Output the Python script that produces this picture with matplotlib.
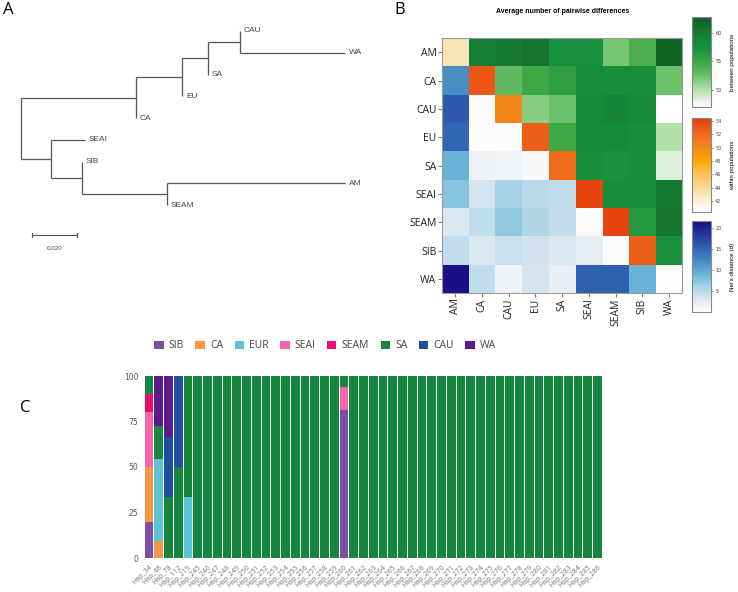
import numpy as np
import pandas as pd
import matplotlib
matplotlib.use("Agg")
import matplotlib.pyplot as plt
from matplotlib.colors import LinearSegmentedColormap, Normalize
from matplotlib.cm import ScalarMappable
from matplotlib.patches import Patch

# ==============================
# Data
# ==============================
# A: neighbour-joining tree (newick, branch lengths)
newick = ("(((((CAU:0,WA:0.0467):0.0142,SA:0):0.0115,EU:0):0.0205,CA:0):0.0511,"
          "(SEAI:0.0151,(SIB:0,(AM:0.0791,SEAM:0):0.0378):0.0138):0.0133);")

# B: pairwise matrix (upper = between, diagonal = within, lower = Nei's d)
pops = ["AM", "CA", "CAU", "EU", "SA", "SEAI", "SEAM", "SIB", "WA"]
pairwise = np.array([
    [43.0, 59.5, 60.0, 60.5, 57.5, 57.5, 52.0, 54.0, 62.0],
    [12.0, 53.0, 53.0, 55.0, 56.0, 58.0, 58.0, 58.0, 52.5],
    [16.0, 0.3, 50.0, 51.5, 52.5, 58.5, 59.0, 58.5, 47.0],
    [15.0, 0.3, 0.3, 52.5, 55.0, 58.5, 58.5, 58.0, 50.0],
    [9.0, 1.5, 1.2, 0.8, 51.8, 58.0, 57.5, 58.0, 48.5],
    [7.5, 3.5, 6.0, 5.0, 4.5, 54.0, 58.0, 58.0, 60.0],
    [3.0, 4.5, 7.0, 5.5, 4.5, 0.5, 54.0, 56.5, 60.5],
    [4.5, 3.0, 4.0, 3.8, 3.0, 2.2, 0.5, 52.5, 57.5],
    [21.5, 4.5, 1.5, 3.5, 2.0, 15.5, 15.5, 9.0, 40.5],
])

# C: haplotype composition (%), haplotypes not listed are 100% SA
haplotypes = ["Hap_34", "Hap_48", "Hap_78", "Hap_112", "Hap_219"] + \
             ["Hap_%d" % n for n in range(245, 287)]
mixed_haps = ["Hap_34", "Hap_48", "Hap_78", "Hap_112", "Hap_219", "Hap_260"]
sib = [20, 0, 0, 0, 0, 81.25]
ca = [30, 9.09, 0, 0, 0, 0]
eur = [0, 45.45, 0, 0, 33.33, 0]
seai = [30, 0, 0, 0, 0, 12.5]
seam = [10, 0, 0, 0, 0, 0]
sa = [10, 18.18, 33.33, 50, 66.67, 6.25]
cau = [0, 0, 33.33, 50, 0, 0]
wa = [0, 27.27, 33.33, 0, 0, 0]

groups = ["SIB", "CA", "EUR", "SEAI", "SEAM", "SA", "CAU", "WA"]
group_colors = ["#7e4ea6", "#f79646", "#5bc3d6", "#f564ae",
                "#ee0b6c", "#16873e", "#1e4ea0", "#5b1b8c"]

comp = pd.DataFrame(0.0, index=haplotypes, columns=groups)
comp["SA"] = 100.0
mixed = pd.DataFrame({"SIB": sib, "CA": ca, "EUR": eur, "SEAI": seai, "SEAM": seam,
                      "SA": sa, "CAU": cau, "WA": wa}, index=mixed_haps)
comp.loc[mixed_haps] = mixed[groups].values

# ==============================
# Figure
# ==============================
W, H = 738, 592
fig = plt.figure(figsize=(W / 100, H / 100), dpi=100)


def box(x0, y0, x1, y1):
    # pixel box (top-left origin) -> figure fraction rect
    return [x0 / W, 1 - y1 / H, (x1 - x0) / W, (y1 - y0) / H]


# ------------------------------
# A: tree
# ------------------------------
def parse(s, i=0):
    children = []
    if s[i] == "(":
        i += 1
        while True:
            child, i = parse(s, i)
            children.append(child)
            if s[i] == ",":
                i += 1
            else:
                i += 1
                break
    j = i
    while i < len(s) and s[i] not in ",);":
        i += 1
    name, _, length = s[j:i].partition(":")
    return {"name": name, "len": float(length) if length else 0.0,
            "children": children}, i


root, _ = parse(newick)
tips = []


def layout(node, x0):
    node["x"] = x0 + node["len"]
    if node["children"]:
        for c in node["children"]:
            layout(c, node["x"])
        node["y"] = np.mean([c["y"] for c in node["children"]])
    else:
        node["y"] = len(tips)
        tips.append(node)


layout(root, 0.0)

ax_tree = fig.add_axes(box(0, 0, 395, 270))
px = 45 / 0.02
ax_tree.set_xlim(-21 / px, (395 - 21) / px)
ax_tree.set_ylim((270 - 31) / 21.75, -31 / 21.75)
ax_tree.axis("off")

line_kw = dict(color="#555555", lw=0.9, solid_capstyle="butt")


def draw(node):
    if not node["children"]:
        ax_tree.text(node["x"] + 4 / px, node["y"], node["name"], fontsize=6,
                     family="Liberation Sans", color="#444444",
                     ha="left", va="center")
        return
    ys = [c["y"] for c in node["children"]]
    ax_tree.plot([node["x"], node["x"]], [min(ys), max(ys)], **line_kw)
    for c in node["children"]:
        if c["len"] > 0:
            ax_tree.plot([node["x"], c["x"]], [c["y"], c["y"]], **line_kw)
        draw(c)


draw(root)

# scale bar
sb_x = 11 / px
sb_y = (235 - 31) / 21.75
ax_tree.plot([sb_x, sb_x + 0.02], [sb_y, sb_y], color="#555555", lw=0.8)
for xx in [sb_x, sb_x + 0.02]:
    ax_tree.plot([xx, xx], [sb_y - 0.1, sb_y + 0.1], color="#555555", lw=0.8)
ax_tree.text(sb_x + 0.01, sb_y + 0.6, "0.020", fontsize=4.5, ha="center",
             va="center", color="#444444", family="Liberation Sans")

# ------------------------------
# B: heatmap
# ------------------------------
def make_cmap(name, stops, vmin, vmax):
    return LinearSegmentedColormap.from_list(
        name, [((v - vmin) / (vmax - vmin), c) for v, c in stops])


g_min, g_max = 47.0, 62.8
cmap_between = make_cmap("between", [
    (47.0, "#ffffff"), (48.5, "#dcefd8"), (50.0, "#b5e0ad"), (51.5, "#86cc80"),
    (52.5, "#6cc16a"), (54.0, "#4caf50"), (55.0, "#3fa844"), (57.0, "#1d943e"),
    (58.5, "#138c3a"), (60.0, "#177a32"), (62.8, "#0d5e25")], g_min, g_max)
o_min, o_max = 40.4, 54.4
cmap_within = make_cmap("within", [
    (40.4, "#ffffff"), (42.0, "#fdf1dc"), (43.0, "#f8e4b4"), (44.0, "#f9d99a"),
    (46.0, "#fcc35a"), (48.0, "#f9a70a"), (50.0, "#f5871a"), (52.0, "#f06a1c"),
    (54.4, "#e63c0c")], o_min, o_max)
b_min, b_max = 0.0, 21.7
cmap_nei = make_cmap("nei", [
    (0.0, "#ffffff"), (1.5, "#eef2f6"), (3.0, "#dce8f0"), (4.5, "#c2ddeb"),
    (6.0, "#a8d2e6"), (7.5, "#88c4e0"), (9.0, "#6ab4d8"), (12.0, "#4a8cc4"),
    (15.5, "#3060b0"), (21.7, "#1b0b85")], b_min, b_max)

n = len(pops)
upper = np.triu(np.ones((n, n), bool), 1)
diag = np.eye(n, dtype=bool)
lower = np.tril(np.ones((n, n), bool), -1)

layers = [
    (upper, cmap_between, Normalize(g_min, g_max)),
    (diag, cmap_within, Normalize(o_min, o_max)),
    (lower, cmap_nei, Normalize(b_min, b_max)),
]

ax_hm = fig.add_axes(box(442, 38, 682.3, 293))
for mask, cmap, norm in layers:
    ax_hm.imshow(np.ma.masked_where(~mask, pairwise), cmap=cmap, norm=norm,
                 aspect="auto", interpolation="nearest")
ax_hm.set_xticks(range(n))
ax_hm.set_xticklabels(pops, rotation=90, fontsize=7.5, family="Open Sans",
                      color="#222222")
ax_hm.set_yticks(range(n))
ax_hm.set_yticklabels(pops, fontsize=7.5, family="Open Sans", color="#222222")
ax_hm.tick_params(length=3, width=0.6, color="#666666", pad=1)
for sp in ax_hm.spines.values():
    sp.set_color("#999999")
    sp.set_linewidth(0.8)
ax_hm.set_title("Average number of pairwise differences", fontsize=5,
                fontweight="bold", family="Liberation Sans", pad=18)

cbar_boxes = [box(692, 17, 711, 107), box(692, 118, 711, 212), box(692, 221, 711, 312)]
cbar_ticks = [[50, 55, 60], [42, 44, 46, 48, 50, 52, 54], [5, 10, 15, 20]]
cbar_labels = ["between populations", "within populations", "Nei's distance (d)"]
for rect, (mask, cmap, norm), ticks, label in zip(cbar_boxes, layers, cbar_ticks, cbar_labels):
    cax = fig.add_axes(rect)
    cb = fig.colorbar(ScalarMappable(norm=norm, cmap=cmap), cax=cax, ticks=ticks)
    cb.outline.set_edgecolor("#888888")
    cb.outline.set_linewidth(0.8)
    cax.tick_params(labelsize=3.5, length=1.5, width=0.4, pad=1.5,
                    colors="#444444")
    cb.set_label(label, fontsize=4.5, family="Liberation Sans", labelpad=6)

# ------------------------------
# C: stacked bars
# ------------------------------
ax_bar = fig.add_axes(box(144.1, 376, 602.4, 558))
x = np.arange(len(haplotypes))
bottom = np.zeros(len(haplotypes))
for g, col in zip(groups, group_colors):
    ax_bar.bar(x, comp[g].values, bottom=bottom, width=0.88, color=col,
               edgecolor="none")
    bottom += comp[g].values
ax_bar.set_xlim(-0.5, len(haplotypes) - 0.5)
ax_bar.set_ylim(0, 100)
ax_bar.set_yticks([0, 25, 50, 75, 100])
ax_bar.set_xticks(x)
ax_bar.set_xticklabels(haplotypes, rotation=45, ha="right",
                       rotation_mode="anchor", fontsize=5,
                       family="Open Sans", color="#777777")
ax_bar.tick_params(axis="y", labelsize=5.5, labelcolor="#555555")
ax_bar.tick_params(length=0, pad=4)
for sp in ax_bar.spines.values():
    sp.set_visible(False)

handles = [Patch(facecolor=c, edgecolor="none") for c in group_colors]
fig.legend(handles, groups, loc="center left",
           bbox_to_anchor=(150 / W, 1 - 346 / H), ncol=8, frameon=False,
           prop={"family": "Open Sans", "size": 7.5}, labelcolor="#444444",
           handlelength=0.9, handleheight=0.9, handletextpad=0.5,
           columnspacing=1.1, borderaxespad=0)

# panel letters
for letter, (lx, ly) in zip("ABC", [(3, 10), (394, 10), (20, 408)]):
    fig.text(lx / W, 1 - ly / H, letter, fontsize=12, ha="left", va="center",
             family="Open Sans")

fig.savefig("out.png", dpi=100)
